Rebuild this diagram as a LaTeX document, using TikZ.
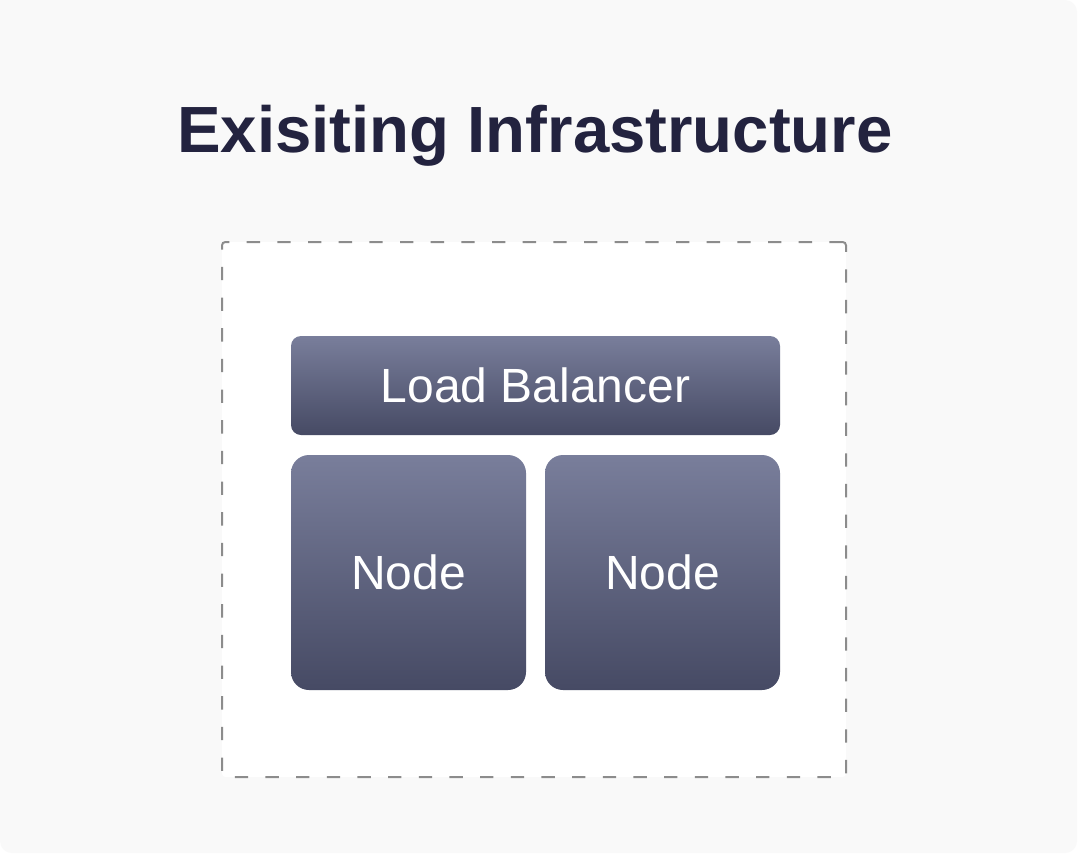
\documentclass[tikz,border=0pt]{standalone}
\usepackage{fontspec}
\setmainfont{Liberation Sans}
\begin{document}
\begin{tikzpicture}[x=0.75pt,y=-0.75pt,
  bg/.style={fill=bggray},
  frame/.style={draw=dashgray,line width=1.5pt,dash pattern=on 10pt off 13pt,fill=white,rounded corners=2.5pt},
  box/.style={top color=boxtop,bottom color=boxbot,draw=none,text=white,font=\fontsize{36}{40}\selectfont,inner sep=0pt},
  ttl/.style={text=titlecol,font=\bfseries\fontsize{49}{56}\selectfont,anchor=base,inner sep=0pt}]
\definecolor{bggray}{HTML}{F9F9F9}
\definecolor{dashgray}{HTML}{8C8C8C}
\definecolor{boxtop}{HTML}{797E9B}
\definecolor{boxbot}{HTML}{464A64}
\definecolor{titlecol}{HTML}{23233F}
\useasboundingbox (0,0) rectangle (1088,860);
\fill[white] (0,0) rectangle (1088,860);
\fill[bg] (0,0) [rounded corners=9pt] -- (1077,0) -- (1077,853) -- (0,853) [sharp corners] -- cycle;
\node[ttl] (title) at (535,152) {Exisiting Infrastructure};
\node[frame,minimum width=624*0.75pt,minimum height=535*0.75pt] (frame) at (534,509.5) {};
\node[box,rounded corners=7.5pt,minimum width=489*0.75pt,minimum height=99*0.75pt] (lb) at (535.5,385.5) {Load Balancer};
\node[box,rounded corners=13.5pt,minimum width=235*0.75pt,minimum height=235*0.75pt] (n1) at (408.5,572.5) {Node};
\node[box,rounded corners=13.5pt,minimum width=235*0.75pt,minimum height=235*0.75pt] (n2) at (662.5,572.5) {Node};
\end{tikzpicture}
\end{document}
